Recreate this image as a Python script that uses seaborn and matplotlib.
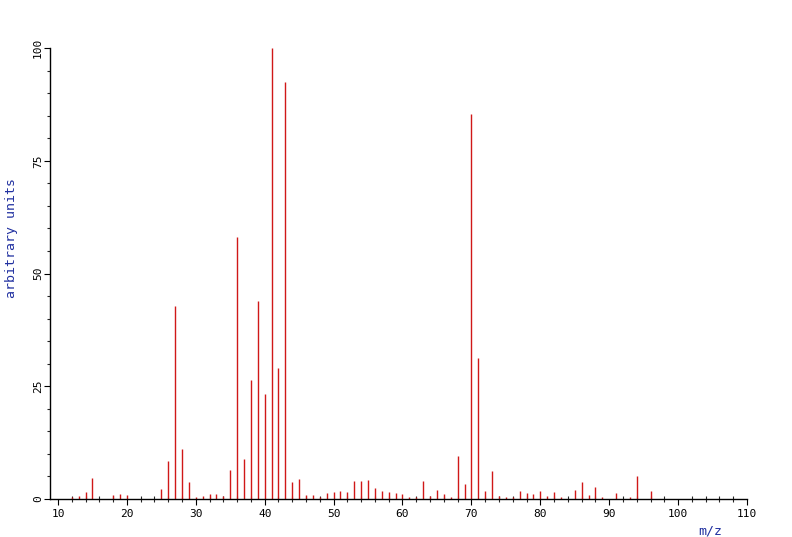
import matplotlib
matplotlib.use("Agg")
import matplotlib.pyplot as plt
import seaborn as sns
from matplotlib.ticker import MultipleLocator

# m/z values and relative intensities
mz = [12, 13, 14, 15, 18, 19, 20, 25, 26, 27, 28, 29, 30, 31, 32, 33, 34, 35,
      36, 37, 38, 39, 40, 41, 42, 43, 44, 45, 46, 47, 48, 49, 50, 51, 52, 53,
      54, 55, 56, 57, 58, 59, 60, 61, 62, 63, 64, 65, 66, 67, 68, 69, 70, 71,
      72, 73, 74, 75, 76, 77, 78, 79, 80, 81, 82, 83, 85, 86, 87, 88, 89, 91,
      93, 94, 96]
intensity = [0.5, 0.6, 1.6, 4.7, 0.9, 1.1, 0.8, 2.2, 8.5, 42.8, 11.1, 3.8, 0.5,
             0.7, 1.0, 1.0, 0.6, 6.4, 58.0, 8.8, 26.4, 43.9, 23.3, 100.0, 29.0,
             92.5, 3.7, 4.4, 0.8, 0.9, 0.5, 1.3, 1.5, 1.7, 1.6, 3.9, 3.9, 4.3,
             2.4, 1.8, 1.6, 1.3, 1.0, 0.5, 0.5, 4.1, 0.7, 2.1, 1.0, 0.5, 9.5,
             3.3, 85.3, 31.3, 1.8, 6.1, 0.7, 0.5, 0.5, 1.7, 1.3, 1.0, 1.7, 0.7,
             1.5, 0.5, 2.1, 3.8, 0.8, 2.6, 0.5, 1.4, 0.5, 5.0, 1.8]

x_ticks = [10, 20, 30, 40, 50, 60, 70, 80, 90, 100, 110]
y_ticks = [0, 25, 50, 75, 100]

sns.set_style("ticks")
plt.rcParams['font.family'] = ['DejaVu Sans Mono']

fig = plt.figure(figsize=(7.92, 5.37), dpi=100)
ax = fig.add_axes([50 / 792, 38 / 537, 697 / 792, 451 / 537])

ax.vlines(mz, 0, intensity, color="#d01818", linewidth=1.0)

ax.set_xlim(8.84, 110)
ax.set_ylim(0, 100)
ax.set_xticks(x_ticks)
ax.set_yticks(y_ticks)
ax.xaxis.set_minor_locator(MultipleLocator(2))
ax.yaxis.set_minor_locator(MultipleLocator(5))

ax.tick_params(axis="both", which="major", direction="out", length=4,
               width=0.8, labelsize=8, colors="black")
ax.tick_params(axis="x", which="minor", direction="inout", length=4,
               width=0.8)
ax.tick_params(axis="y", which="minor", direction="out", length=2.5,
               width=0.8)
ax.tick_params(axis="y", which="major", labelrotation=90, pad=1)
for lab in ax.get_yticklabels():
    lab.set_verticalalignment("center")

for side in ["top", "right"]:
    ax.spines[side].set_visible(False)
for side in ["left", "bottom"]:
    ax.spines[side].set_color("black")
    ax.spines[side].set_linewidth(1)

fig.text(710 / 792, 1 - 531 / 537, "m/z", color="#2030a0", fontsize=9.5,
         ha="center", va="center")
fig.text(12 / 792, 1 - 238 / 537, "arbitrary units", color="#2030a0",
         fontsize=9.5, ha="center", va="center", rotation=90)

fig.savefig("out.png", dpi=100)
